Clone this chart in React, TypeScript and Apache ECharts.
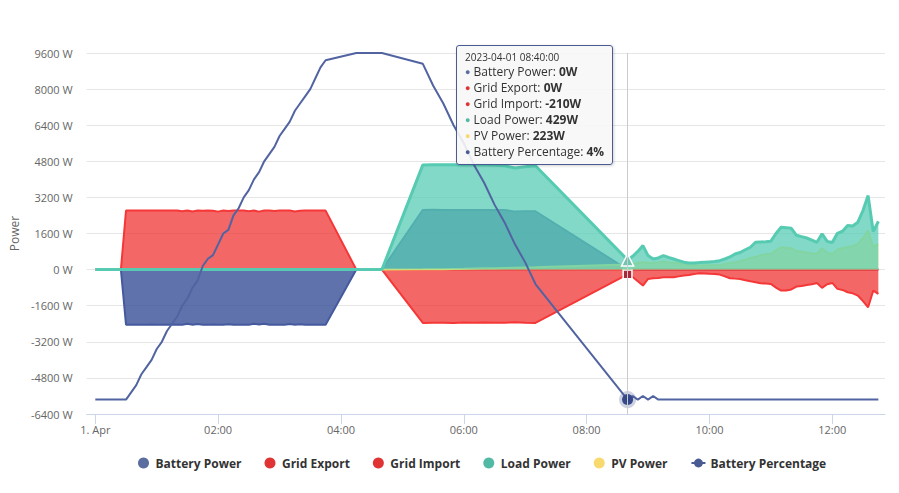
import React, { useEffect, useRef } from "react";
import * as echarts from "echarts";

const FONT = "'Open Sans', 'Noto Sans', sans-serif";
const DATE = "2023-04-01";

// ---- time stamps (HH:MM) ----
const startTimes = ["00:00", "00:25"];
const chargeTimes = [
  "00:30", "00:35", "00:40", "00:45", "00:50", "00:55", "01:00", "01:05", "01:10", "01:15",
  "01:20", "01:25", "01:30", "01:35", "01:40", "01:45", "01:50", "01:55", "02:00", "02:05",
  "02:10", "02:15", "02:20", "02:25", "02:30", "02:35", "02:40", "02:45", "02:50", "02:55",
  "03:00", "03:05", "03:10", "03:15", "03:20", "03:25", "03:30", "03:35", "03:40", "03:45",
];
const idleTimes = ["04:15", "04:40"];
const dischargeTimes = [
  "05:20", "05:30", "05:40", "05:50", "06:00", "06:10", "06:20", "06:30", "06:40", "06:50", "07:00", "07:10",
];
const tailTimes = [
  "08:40", "08:45", "08:50", "08:55", "09:00", "09:05", "09:10", "09:15", "09:20", "09:25",
  "09:30", "09:35", "09:40", "09:45", "09:50", "09:55", "10:00", "10:05", "10:10", "10:15",
  "10:20", "10:25", "10:30", "10:35", "10:40", "10:45", "10:50", "10:55", "11:00", "11:05",
  "11:10", "11:15", "11:20", "11:25", "11:30", "11:35", "11:40", "11:45", "11:50", "11:55",
  "12:00", "12:05", "12:10", "12:15", "12:20", "12:25", "12:30", "12:35", "12:40", "12:45",
];
const times = [...startTimes, ...chargeTimes, ...idleTimes, ...dischargeTimes, ...tailTimes];

const xTickTimes = ["00:00", "02:00", "04:00", "06:00", "08:00", "10:00", "12:00"];
const firstTickLabel = "1. Apr";
const tooltipTime = "08:40";

// ---- zero segments (read as zero) ----
const ZERO_12 = [0, 0, 0, 0, 0, 0, 0, 0, 0, 0, 0, 0];
const ZERO_40 = [
  0, 0, 0, 0, 0, 0, 0, 0, 0, 0, 0, 0, 0, 0, 0, 0, 0, 0, 0, 0,
  0, 0, 0, 0, 0, 0, 0, 0, 0, 0, 0, 0, 0, 0, 0, 0, 0, 0, 0, 0,
];
const ZERO_50 = [
  0, 0, 0, 0, 0, 0, 0, 0, 0, 0, 0, 0, 0, 0, 0, 0, 0, 0, 0, 0, 0, 0, 0, 0, 0,
  0, 0, 0, 0, 0, 0, 0, 0, 0, 0, 0, 0, 0, 0, 0, 0, 0, 0, 0, 0, 0, 0, 0, 0, 0,
];

// ---- charge phase ----
const chargeBattery = [
  -2440, -2440, -2440, -2440, -2440, -2435, -2440, -2440, -2440, -2430,
  -2440, -2440, -2400, -2440, -2410, -2440, -2440, -2430, -2440, -2440,
  -2420, -2440, -2440, -2440, -2440, -2400, -2430, -2400, -2440, -2440,
  -2440, -2440, -2410, -2440, -2420, -2440, -2440, -2440, -2440, -2440,
];
const chargeExport = [
  2615, 2615, 2615, 2615, 2615, 2615, 2615, 2615, 2615, 2615,
  2615, 2590, 2615, 2580, 2615, 2605, 2615, 2610, 2570, 2615,
  2600, 2615, 2615, 2615, 2590, 2615, 2570, 2615, 2615, 2600,
  2615, 2615, 2615, 2580, 2610, 2615, 2615, 2615, 2615, 2615,
];
const chargePct = [
  4, 6, 8, 11, 13, 15, 18, 20, 23, 25, 27, 30, 32, 35, 37, 41, 43, 44, 47, 50,
  51, 55, 57, 60, 62, 65, 67, 70, 72, 74, 77, 79, 81, 84, 86, 88, 90, 93, 96, 98,
];

// ---- discharge phase ----
const dischargeBattery = [2645, 2650, 2645, 2645, 2640, 2645, 2645, 2645, 2640, 2570, 2590, 2585];
const dischargeImport = [-2365, -2360, -2355, -2365, -2350, -2360, -2340, -2360, -2355, -2330, -2360, -2365];
const dischargeLoad = [4640, 4645, 4650, 4645, 4640, 4645, 4640, 4630, 4600, 4500, 4560, 4600];
const dischargePv = [10, 15, 20, 30, 35, 45, 55, 60, 70, 80, 90, 100];
const dischargePct = [97, 91, 86, 80, 75, 69, 64, 58, 53, 47, 42, 36];

// ---- tail (08:40 - 12:45) ----
const tailLoad = [
  429, 590, 805, 1064, 620, 474, 518, 620, 540, 470,
  400, 330, 296, 296, 310, 325, 340, 355, 395, 470,
  560, 690, 760, 880, 990, 1212, 1225, 1235, 1260, 1600,
  1876, 1860, 1830, 1520, 1460, 1400, 1310, 1212, 1590, 1250,
  1200, 1610, 1700, 1950, 1930, 2100, 2620, 3280, 1684, 2141,
];
const tailPv = [
  223, 260, 300, 325, 300, 296, 320, 355, 320, 300,
  280, 240, 200, 177, 177, 177, 190, 195, 208, 250,
  290, 325, 380, 440, 520, 560, 640, 680, 700, 850,
  990, 970, 945, 830, 800, 760, 730, 695, 945, 750,
  680, 887, 950, 1000, 1040, 1140, 1400, 1730, 990, 1140,
];
const tailImport = [
  -210, -330, -520, -709, -413, -384, -370, -340, -340, -340,
  -300, -260, -236, -200, -163, -170, -185, -192, -222, -300,
  -384, -400, -413, -470, -518, -562, -607, -620, -635, -800,
  -930, -930, -880, -754, -730, -680, -650, -590, -810, -650,
  -590, -855, -900, -1005, -1050, -1150, -1400, -1670, -930, -1077,
];
const tailPct = [
  4, 5, 4, 5, 4, 5, 4, 4, 4, 4, 4, 4, 4, 4, 4, 4, 4, 4, 4, 4, 4, 4, 4, 4, 4,
  4, 4, 4, 4, 4, 4, 4, 4, 4, 4, 4, 4, 4, 4, 4, 4, 4, 4, 4, 4, 4, 4, 4, 4, 4,
];

const batteryPower = [0, 0, ...chargeBattery, 0, 0, ...dischargeBattery, ...ZERO_50];
const gridExport = [0, 0, ...chargeExport, 0, 0, ...ZERO_12, ...ZERO_50];
const gridImport = [0, 0, ...ZERO_40, 0, 0, ...dischargeImport, ...tailImport];
const loadPower = [0, 0, ...ZERO_40, 0, 0, ...dischargeLoad, ...tailLoad];
const pvPower = [0, 0, ...ZERO_40, 0, 0, ...dischargePv, ...tailPv];
const batteryPct = [4, 4, ...chargePct, 100, 100, ...dischargePct, ...tailPct];

const ORDER = ["Battery Power", "Grid Export", "Grid Import", "Load Power", "PV Power", "Battery Percentage"];
const DOT: Record<string, string> = {
  "Battery Power": "#5a6d9f",
  "Grid Export": "#e03333",
  "Grid Import": "#e03333",
  "Load Power": "#52b9a4",
  "PV Power": "#f8d96e",
  "Battery Percentage": "#4a5b93",
};

const toMin = (s: string) => parseInt(s.slice(0, 2), 10) * 60 + parseInt(s.slice(3), 10);
const pad = (n: number) => String(n).padStart(2, "0");

function areaSeries(
  name: string,
  values: number[],
  line: string,
  fill: string,
  fillOpacity: number,
  lineWidth: number,
  symbol: string,
  z: number,
  extra: any = {}
) {
  return {
    name,
    type: "line",
    z,
    data: times.map((t, i) => [toMin(t), values[i]]),
    showSymbol: false,
    symbol,
    symbolSize: 8,
    lineStyle: { color: line, width: lineWidth },
    itemStyle: { color: line, borderColor: "#ffffff", borderWidth: 1 },
    areaStyle: { color: fill, opacity: fillOpacity },
    emphasis: { scale: true, itemStyle: { borderColor: "#ffffff", borderWidth: 1.5 } },
    ...extra,
  };
}

export default function App() {
  const ref = useRef<HTMLDivElement>(null);

  useEffect(() => {
    if (!ref.current) return;
    const chart = echarts.init(ref.current, undefined, { renderer: "svg" });
    const tickMins = xTickTimes.map(toMin);

    const option: any = {
      animation: false,
      textStyle: { fontFamily: FONT },
      grid: { left: 83, right: 14, top: 53, bottom: 79 },
      xAxis: {
        type: "value",
        min: -8.5,
        max: 771.5,
        axisLine: { show: true, onZero: false, lineStyle: { color: "#ccd6eb", width: 1 } },
        axisTick: { show: true, length: 10, lineStyle: { color: "#ccd6eb" }, customValues: tickMins },
        axisLabel: {
          customValues: tickMins,
          color: "#666666",
          fontSize: 11,
          fontFamily: FONT,
          margin: 10,
          formatter: (v: number) => (v === 0 ? firstTickLabel : `${pad(Math.floor(v / 60))}:${pad(v % 60)}`),
        },
        splitLine: { show: false },
      },
      yAxis: [
        {
          type: "value",
          min: -6400,
          max: 9600,
          interval: 1600,
          name: "Power",
          nameLocation: "middle",
          nameGap: 64,
          nameRotate: 90,
          nameTextStyle: { color: "#666666", fontSize: 12, fontFamily: FONT },
          axisLabel: { formatter: (v: number) => `${v} W`, color: "#666666", fontSize: 11, margin: 14, fontFamily: FONT },
          splitLine: { lineStyle: { color: "#e6e6e6", width: 1 } },
          axisLine: { show: false },
          axisTick: { show: false },
        },
        { type: "value", min: 0, max: 100, show: false, splitLine: { show: false } },
      ],
      legend: {
        top: 452,
        left: 133,
        itemGap: 23,
        itemWidth: 14,
        itemHeight: 11,
        textStyle: { fontFamily: FONT, fontSize: 12, fontWeight: "bold", color: "#333333" },
        data: [
          { name: "Battery Power", icon: "circle", itemStyle: { color: "#5a6d9f", borderWidth: 0 } },
          { name: "Grid Export", icon: "circle", itemStyle: { color: "#e03333", borderWidth: 0 } },
          { name: "Grid Import", icon: "circle", itemStyle: { color: "#e03333", borderWidth: 0 } },
          { name: "Load Power", icon: "circle", itemStyle: { color: "#52b9a4", borderWidth: 0 } },
          { name: "PV Power", icon: "circle", itemStyle: { color: "#f8d96e", borderWidth: 0 } },
          {
            name: "Battery Percentage",
            itemStyle: { color: "#4a5b93", borderWidth: 0 },
            lineStyle: { color: "#4a5b93", width: 2 },
          },
        ],
      },
      tooltip: {
        trigger: "axis",
        alwaysShowContent: true,
        showDelay: 0,
        transitionDuration: 0,
        backgroundColor: "rgba(247,247,247,0.9)",
        borderColor: "#4a5b93",
        borderWidth: 1,
        padding: [4, 8],
        textStyle: { fontFamily: FONT, fontSize: 12, color: "#333333" },
        extraCssText: "border-radius:3px;box-shadow:1px 1px 3px rgba(0,0,0,0.18);",
        axisPointer: {
          type: "line",
          axis: "x",
          lineStyle: { color: "#cccccc", width: 1, type: "solid" },
          label: { show: false },
        },
        position: (point: number[], _p: any, _d: any, _r: any, size: any) => [
          point[0] - size.contentSize[0] - 15,
          45,
        ],
        formatter: (params: any) => {
          const arr = Array.isArray(params) ? params : [params];
          const x = arr[0].value[0];
          let html = `<div style="font-size:10px;line-height:14px;color:#333">${DATE} ${pad(Math.floor(x / 60))}:${pad(
            x % 60
          )}:00</div>`;
          ORDER.forEach((name) => {
            const p = arr.find((q: any) => q.seriesName === name);
            if (!p) return;
            const unit = name === "Battery Percentage" ? "%" : "W";
            html += `<div style="line-height:16px;white-space:nowrap"><span style="color:${DOT[name]};font-size:9px;vertical-align:1px">●</span> ${name}: <b>${p.value[1]}${unit}</b></div>`;
          });
          return html;
        },
      },
      series: [
        areaSeries("Battery Power", batteryPower, "#3f5290", "rgb(50,72,138)", 0.8, 2, "circle", 2, {
          itemStyle: { color: "#4a4f63", borderColor: "#ffffff", borderWidth: 1 },
        }),
        areaSeries("Grid Export", gridExport, "#df3232", "rgb(219,48,48)", 0.75, 2, "diamond", 3),
        areaSeries("Grid Import", gridImport, "#df3232", "rgb(219,48,48)", 0.75, 2, "rect", 4, {
          itemStyle: { color: "#a8283a", borderColor: "rgba(240,140,150,0.6)", borderWidth: 3 },
        }),
        areaSeries("PV Power", pvPower, "#f5d560", "rgb(247,214,107)", 0.75, 2, "triangle", 5, { symbolRotate: 180 }),
        areaSeries("Load Power", loadPower, "#4fb9a2", "rgb(80,186,164)", 0.75, 3, "triangle", 6, {
          symbolSize: 11,
          itemStyle: { color: "#6fc4b0", borderColor: "#ffffff", borderWidth: 1.5 },
        }),
        {
          name: "Battery Percentage",
          type: "line",
          z: 7,
          yAxisIndex: 1,
          data: times.map((t, i) => [toMin(t), batteryPct[i]]),
          showSymbol: false,
          symbol: "circle",
          symbolSize: 10,
          lineStyle: { color: "#4a5b93", width: 2 },
          itemStyle: { color: "#2f4487", borderColor: "rgba(74,91,147,0.28)", borderWidth: 6 },
          emphasis: { scale: true, itemStyle: { color: "#2f4487", borderColor: "rgba(74,91,147,0.28)", borderWidth: 6 } },
        },
      ],
    };

    chart.setOption(option);
    const idx = times.indexOf(tooltipTime);
    const show = () => chart.dispatchAction({ type: "showTip", seriesIndex: 5, dataIndex: idx });
    show();
    const timer = setTimeout(show, 60);

    return () => {
      clearTimeout(timer);
      chart.dispose();
    };
  }, []);

  return (
    <div
      ref={ref}
      style={{ position: "absolute", left: 0, top: 0, width: 899, height: 493, background: "#ffffff" }}
    />
  );
}
